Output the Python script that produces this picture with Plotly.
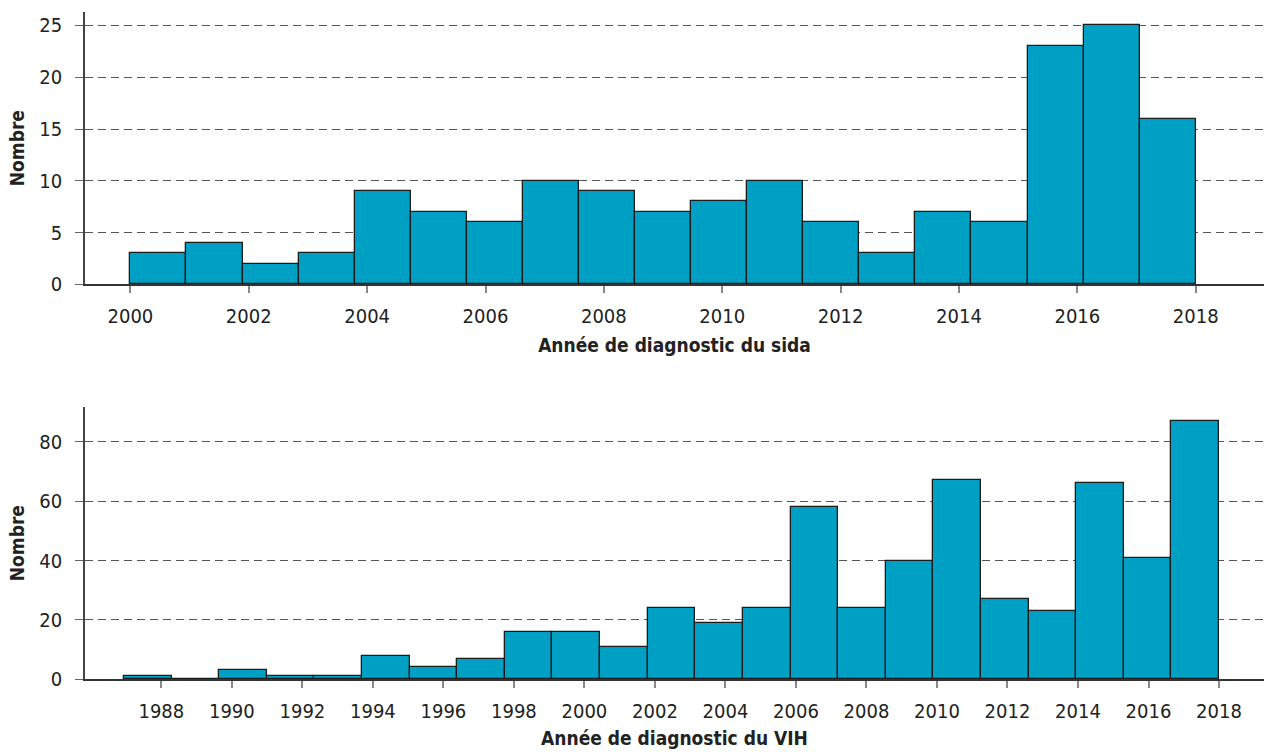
import numpy as np
import plotly.graph_objects as go

# ---- data ----
sida_counts = [3, 4, 2, 3, 9, 7, 6, 10, 9, 7, 8, 10, 6, 3, 7, 6, 23, 25, 16]
sida_first, sida_last = 2000.0, 2018.0
vih_counts = [1, 0, 3, 1, 1, 8, 4, 7, 16, 16, 11, 24, 19, 24, 58, 24, 40, 67, 27, 23, 66, 41, 87]
vih_first, vih_last = 1986.94, 2018.0
sida_ticks = list(range(2000, 2019, 2))
vih_ticks = list(range(1988, 2019, 2))
sida_title = "Année de diagnostic du sida"
vih_title = "Année de diagnostic du VIH"
y_title = "Nombre"

FONT = "Liberation Sans Narrow, Arial Narrow, DejaVu Sans Condensed, sans-serif"
BAR = "#00A0C4"
W, H = 1264, 752


def bins(first, last, counts):
    edges = np.linspace(first, last, len(counts) + 1)
    return (edges[:-1] + edges[1:]) / 2, edges[1] - edges[0]


fig = go.Figure()
c1, w1 = bins(sida_first, sida_last, sida_counts)
c2, w2 = bins(vih_first, vih_last, vih_counts)
fig.add_trace(go.Bar(x=c1, y=sida_counts, width=w1, xaxis="x", yaxis="y",
                     marker=dict(color=BAR, line=dict(color="#1c1c1c", width=1.3))))
fig.add_trace(go.Bar(x=c2, y=vih_counts, width=w2, xaxis="x2", yaxis="y2",
                     marker=dict(color=BAR, line=dict(color="#1c1c1c", width=1.3))))

tickfont = dict(family=FONT, size=20, color="#222")
titlefont = dict(family=FONT, size=19, color="#222", weight="bold")

xcommon = dict(showgrid=False, zeroline=False, showline=True, linecolor="#333", linewidth=1.5,
               ticks="outside", ticklen=7, tickwidth=1.5, tickcolor="#888",
               tickfont=tickfont, title_font=titlefont, domain=[0, 1],
               automargin=False, ticklabelstandoff=6)
ycommon = dict(showgrid=True, gridcolor="#555555", gridwidth=1.2, griddash="8px,5px",
               zeroline=False, showline=True, linecolor="#444", linewidth=1.5,
               ticks="outside", ticklen=8, tickwidth=1.2, tickcolor="#666",
               tickfont=tickfont, title_font=titlefont, ticklabelstandoff=9,
               automargin=False)

fig.update_layout(
    width=W, height=H,
    margin=dict(l=85, r=0, t=0, b=0),
    paper_bgcolor="white", plot_bgcolor="white",
    showlegend=False, bargap=0,
    xaxis=dict(xcommon, anchor="y", range=[1999.233, 2019.154], tickvals=sida_ticks,
               title=dict(text=sida_title, standoff=12)),
    yaxis=dict(ycommon, anchor="x", domain=[1 - 284.3 / H, 1 - 12 / H], range=[0, 26.3],
               tickvals=[0, 5, 10, 15, 20, 25], title=dict(text=y_title, standoff=10)),
    xaxis2=dict(xcommon, anchor="y2", range=[1985.834, 2019.276], tickvals=vih_ticks,
                title=dict(text=vih_title, standoff=10)),
    yaxis2=dict(ycommon, anchor="x2", domain=[1 - 679.3 / H, 1 - 407 / H], range=[0, 91.7],
                tickvals=[0, 20, 40, 60, 80], title=dict(text=y_title, standoff=10)),
)

fig.write_html("out.html", config={"displayModeBar": False},
               post_script="document.body.style.margin='0px';")
